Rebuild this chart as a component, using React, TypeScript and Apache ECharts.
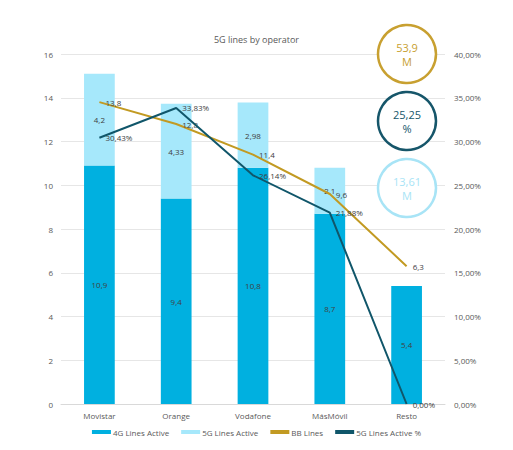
import React, { useEffect, useRef } from "react";
import * as echarts from "echarts";

const categories = ["Movistar", "Orange", "Vodafone", "MásMóvil", "Resto"];
const lines4G = [10.9, 9.4, 10.8, 8.7, 5.4];
const lines5G = [4.2, 4.33, 2.98, 2.1, null];
const bbLines = [13.8, 12.8, 11.4, 9.6, 6.3];
const pct5G = [30.43, 33.83, 26.14, 21.88, 0.0];
const leftTicks = [0, 2, 4, 6, 8, 10, 12, 14, 16];
const kpis = [
  { value: "53,9", unit: "M", color: "#c8a030" },
  { value: "25,25", unit: "%", color: "#16566a" },
  { value: "13,61", unit: "M", color: "#a8e4f6" },
];

const C4G = "#00b0e0";
const C5G = "#a6e8fb";
const CBB = "#c29a22";
const CPCT = "#10566a";
const TXT = "#595959";
const FONT = "Open Sans";

const comma = (v: number, d?: number) =>
  (d === undefined ? String(v) : v.toFixed(d)).replace(".", ",");

export default function App() {
  const ref = useRef<HTMLDivElement>(null);
  useEffect(() => {
    const chart = echarts.init(ref.current!, undefined, { renderer: "svg" });
    const labelStyle = { fontSize: 8, color: "#404040", fontFamily: FONT };
    const graphics: any[] = [];
    kpis.forEach((k, i) => {
      const cy = 46 + i * 67;
      graphics.push({
        type: "circle",
        shape: { cx: 399, cy, r: 29 },
        style: { fill: "#fff", stroke: k.color, lineWidth: 2.5 },
        z: 10,
      });
      graphics.push({
        type: "text",
        x: 399,
        y: cy,
        style: {
          text: k.value + "\n" + k.unit,
          fill: k.color,
          fontSize: 11,
          fontFamily: FONT,
          align: "center",
          verticalAlign: "middle",
          lineHeight: 14,
        },
        z: 11,
      });
    });
    chart.setOption({
      animation: false,
      title: {
        text: "5G lines by operator",
        left: "center",
        top: 22,
        textStyle: { fontSize: 9, color: TXT, fontWeight: "normal", fontFamily: FONT },
      },
      grid: { left: 53, right: 60, top: 46, bottom: 54 },
      legend: {
        bottom: 17,
        left: "center",
        itemWidth: 19,
        itemHeight: 4,
        itemGap: 12,
        textStyle: {
          fontSize: 8,
          color: TXT,
          fontFamily: FONT,
          padding: [0, 0, 0, -3],
        },
        data: [
          { name: "4G Lines Active", icon: "rect" },
          { name: "5G Lines Active", icon: "rect" },
          { name: "BB Lines", icon: "rect", itemStyle: { color: CBB } },
          { name: "5G Lines Active %", icon: "rect", itemStyle: { color: CPCT } },
        ],
      },
      xAxis: {
        type: "category",
        data: categories,
        axisLine: { lineStyle: { color: "#d9d9d9" } },
        axisTick: { show: false },
        axisLabel: { fontSize: 8, color: TXT, fontFamily: FONT, margin: 7 },
      },
      yAxis: [
        {
          type: "value",
          min: 0,
          max: leftTicks[leftTicks.length - 1],
          interval: 2,
          axisLine: { show: false },
          axisTick: { show: false },
          splitLine: { lineStyle: { color: "#e6e6e6" } },
          axisLabel: { fontSize: 8, color: TXT, fontFamily: FONT, margin: 8 },
        },
        {
          type: "value",
          min: 0,
          max: 40,
          interval: 5,
          axisLine: { show: false },
          axisTick: { show: false },
          splitLine: { show: false },
          axisLabel: {
            fontSize: 8,
            color: TXT,
            fontFamily: FONT,
            margin: 9,
            formatter: (v: number) => comma(v, 2) + "%",
          },
        },
      ],
      series: [
        {
          name: "4G Lines Active",
          type: "bar",
          stack: "lines",
          data: lines4G,
          barWidth: "40%",
          itemStyle: { color: C4G },
          label: {
            show: true,
            position: "inside",
            ...labelStyle,
            formatter: (p: any) => comma(p.value),
          },
        },
        {
          name: "5G Lines Active",
          type: "bar",
          stack: "lines",
          data: lines5G,
          barWidth: "40%",
          itemStyle: { color: C5G },
          label: {
            show: true,
            position: "inside",
            ...labelStyle,
            formatter: (p: any) => (p.value == null ? "" : comma(p.value)),
          },
        },
        {
          name: "BB Lines",
          type: "line",
          data: bbLines,
          symbol: "circle",
          symbolSize: 0.1,
          showSymbol: true,
          lineStyle: { color: CBB, width: 2 },
          itemStyle: { color: CBB },
          label: {
            show: true,
            position: "right",
            distance: 6,
            ...labelStyle,
            formatter: (p: any) => comma(p.value),
          },
          z: 5,
        },
        {
          name: "5G Lines Active %",
          type: "line",
          yAxisIndex: 1,
          data: pct5G,
          symbol: "circle",
          symbolSize: 0.1,
          showSymbol: true,
          lineStyle: { color: CPCT, width: 2 },
          itemStyle: { color: CPCT },
          label: {
            show: true,
            position: "right",
            distance: 6,
            ...labelStyle,
            formatter: (p: any) => comma(p.value, 2) + "%",
          },
          z: 6,
        },
      ],
      graphic: graphics,
    });
    return () => chart.dispose();
  }, []);
  return <div ref={ref} style={{ width: 497, height: 450 }} />;
}
